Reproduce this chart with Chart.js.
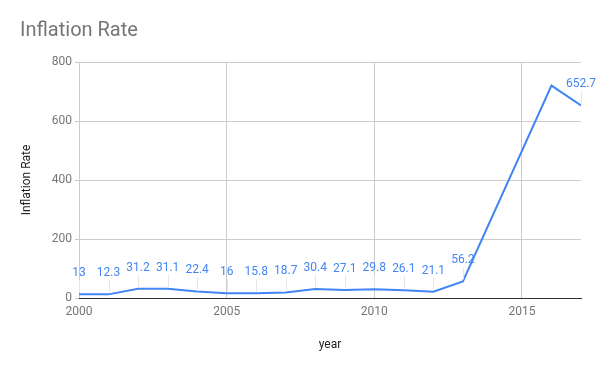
<!DOCTYPE html>
<html>
<head>
  <meta charset="utf-8">
  <title>Inflation Rate</title>
  <script src="https://cdn.jsdelivr.net/npm/chart.js@4"></script>
  <style>
    html, body { margin: 0; padding: 0; background: #fff; }
    #wrap { width: 600px; height: 371px; }
  </style>
</head>
<body>
  <div id="wrap"><canvas id="chart" width="600" height="371"></canvas></div>

  <script>
    // chart values
    const years = [2000, 2001, 2002, 2003, 2004, 2005, 2006, 2007, 2008, 2009,
                   2010, 2011, 2012, 2013, 2014, 2015, 2016, 2017];
    const inflation = [13, 12.3, 31.2, 31.1, 22.4, 16, 15.8, 18.7, 30.4, 27.1,
                       29.8, 26.1, 21.1, 56.2, null, null, 720, 652.7];
    // which points carry a value label (2016 has none in the source)
    const showLabel = [true, true, true, true, true, true, true, true, true, true,
                       true, true, true, true, false, false, false, true];
    const xTicks = [2000, 2005, 2010, 2015];
    const yTicks = [0, 200, 400, 600, 800];

    const BLUE = '#4285f4';
    const FONT = 'Roboto, "Noto Sans", sans-serif';

    // value labels with thin leader lines, placed from the point positions
    const valueLabels = {
      id: 'valueLabels',
      afterDatasetsDraw(chart) {
        const ctx = chart.ctx;
        const meta = chart.getDatasetMeta(0);
        ctx.save();
        ctx.font = '12px ' + FONT;
        ctx.textAlign = 'center';
        ctx.textBaseline = 'middle';
        meta.data.forEach((pt, i) => {
          if (inflation[i] == null || !showLabel[i]) return;
          const x = pt.x, y = pt.y;
          ctx.strokeStyle = '#e6e6e6';
          ctx.lineWidth = 1;
          ctx.beginPath();
          ctx.moveTo(Math.round(x) + 0.5, y - 14);
          ctx.lineTo(Math.round(x) + 0.5, y - 2);
          ctx.stroke();
          ctx.fillStyle = BLUE;
          ctx.fillText(String(inflation[i]), x, y - 21);
        });
        ctx.restore();
      }
    };

    new Chart(document.getElementById('chart'), {
      type: 'line',
      data: {
        datasets: [{
          label: 'Inflation Rate',
          data: years.map((y, i) => ({ x: y, y: inflation[i] })),
          borderColor: BLUE,
          backgroundColor: BLUE,
          borderWidth: 2,
          pointRadius: 0,
          tension: 0,
          spanGaps: true
        }]
      },
      options: {
        responsive: false,
        animation: false,
        layout: { padding: { left: 20, right: 19, top: 0, bottom: 0 } },
        plugins: {
          legend: { display: false },
          tooltip: { enabled: false },
          title: {
            display: true,
            text: 'Inflation Rate',
            align: 'start',
            color: '#757575',
            font: { family: FONT, size: 20, weight: 'normal' },
            padding: { top: 19, bottom: 19 }
          }
        },
        scales: {
          x: {
            type: 'linear',
            min: 2000,
            max: 2017,
            afterBuildTicks: s => { s.ticks = xTicks.map(v => ({ value: v })); },
            afterFit: s => { s.height = 73; },
            grid: { color: '#cccccc', drawTicks: false },
            border: { color: '#333333', width: 1 },
            ticks: {
              color: '#757575',
              font: { family: FONT, size: 12 },
              padding: 7,
              maxRotation: 0,
              callback: v => String(v)
            },
            title: {
              display: true,
              text: 'year',
              color: '#222222',
              font: { family: FONT, size: 12 },
              padding: { top: 0, bottom: 19 }
            }
          },
          y: {
            min: 0,
            max: 800,
            afterBuildTicks: s => { s.ticks = yTicks.map(v => ({ value: v })); },
            afterFit: s => { s.width = 59; },
            grid: { color: '#cccccc', tickLength: 4 },
            border: { display: false },
            ticks: {
              color: '#757575',
              font: { family: FONT, size: 12 },
              padding: 3
            },
            title: {
              display: true,
              text: 'Inflation Rate',
              color: '#222222',
              font: { family: FONT, size: 12 },
              padding: { top: 0, bottom: 0 }
            }
          }
        }
      },
      plugins: [valueLabels]
    });
  </script>
</body>
</html>
